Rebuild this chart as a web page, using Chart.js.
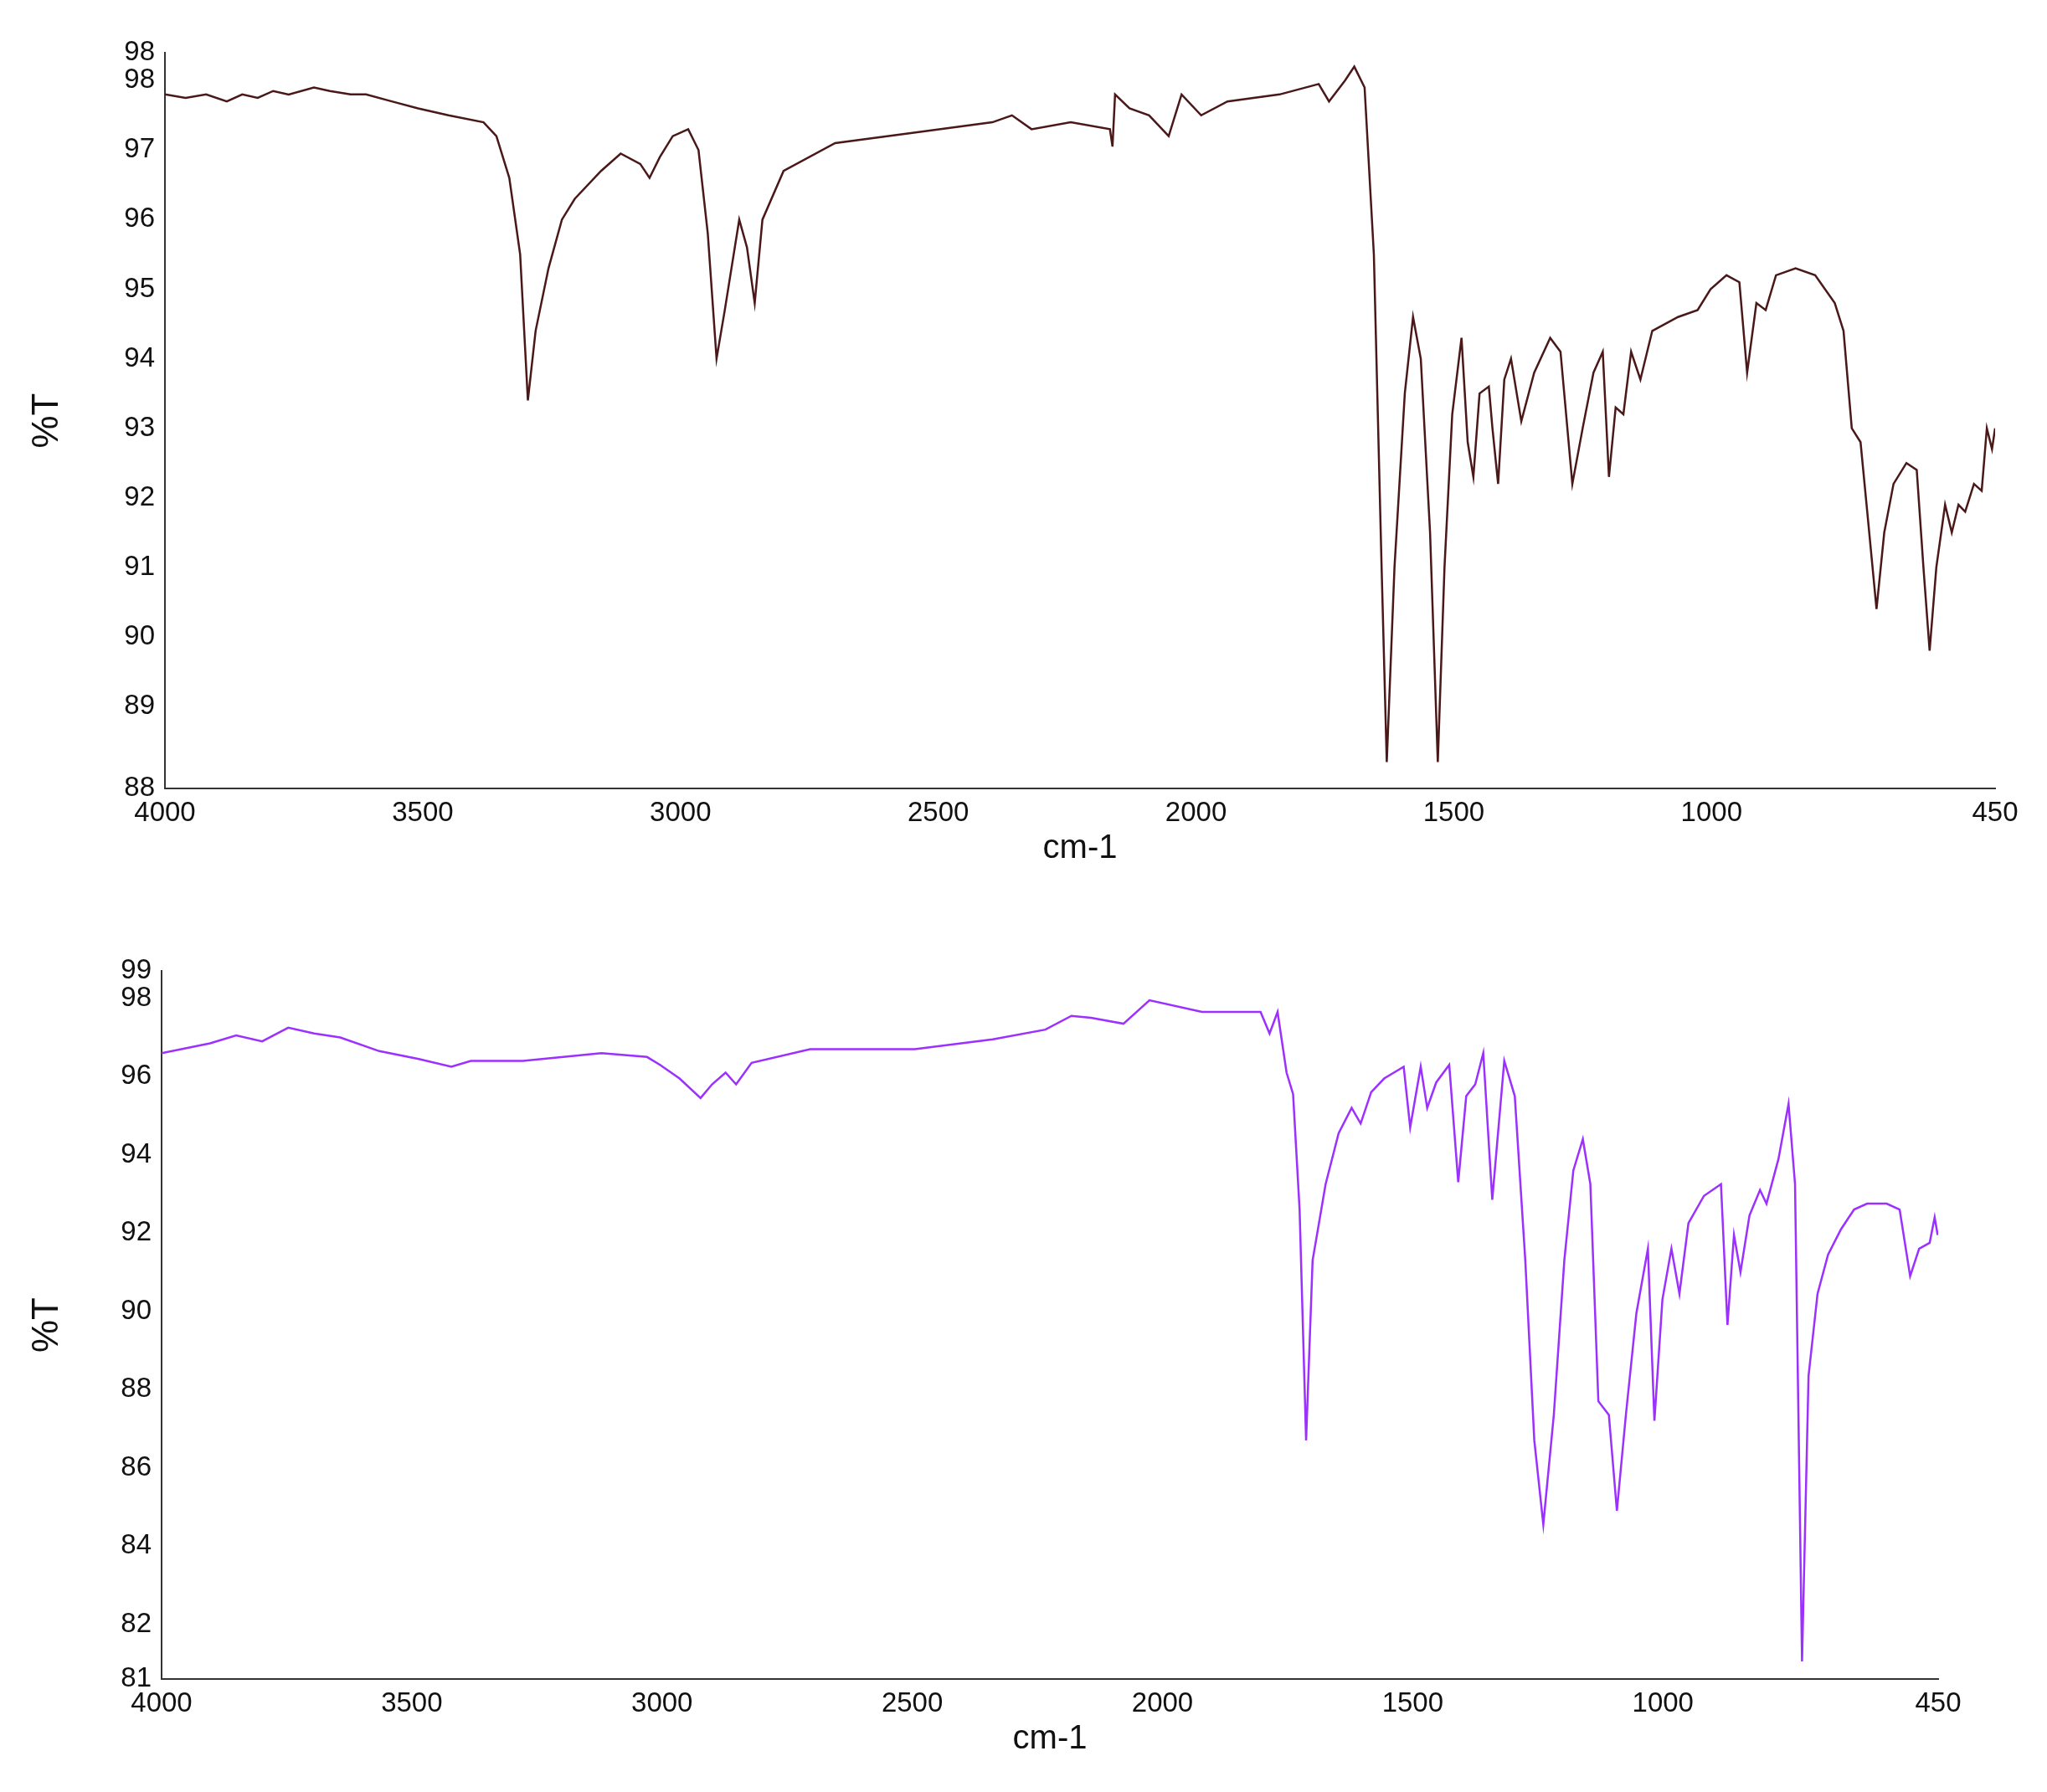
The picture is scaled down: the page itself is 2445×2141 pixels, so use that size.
<!DOCTYPE html>
<html><head><meta charset="utf-8">
<script src="https://cdn.jsdelivr.net/npm/chart.js@4/dist/chart.umd.min.js"></script>
<style>body{margin:0;background:#fff;width:2445px;height:2141px;position:relative;overflow:hidden}
.w{position:absolute;left:0;width:2445px}</style></head><body>
<div class="w" style="top:0;height:1075px"><canvas id="c1"></canvas></div>
<div class="w" style="top:1085px;height:1056px"><canvas id="c2"></canvas></div>
<script>
const wn1=[4000,3960,3920,3880,3850,3820,3790,3760,3711,3680,3640,3610,3560,3509,3450,3382,3357,3332,3311,3296,3281,3256,3230,3205,3154,3116,3078,3060,3040,3015,2985,2965,2947,2930,2914,2886,2871,2856,2841,2800,2700,2547,2395,2357,2319,2243,2167,2162,2157,2129,2091,2053,2028,1990,1939,1838,1762,1742,1711,1693,1673,1655,1640,1630,1615,1595,1579,1564,1546,1531,1518,1503,1485,1473,1462,1450,1432,1425,1414,1402,1389,1369,1344,1313,1293,1270,1250,1229,1211,1199,1186,1171,1156,1138,1115,1065,1027,1002,971,946,931,913,895,875,837,799,761,744,728,711,698,680,665,647,622,602,589,577,564,547,534,521,508,491,476,466,456,450];
const t1=[97.8,97.75,97.8,97.7,97.8,97.75,97.85,97.8,97.9,97.85,97.8,97.8,97.7,97.6,97.5,97.4,97.2,96.6,95.5,93.4,94.4,95.3,96.0,96.3,96.7,96.95,96.8,96.6,96.9,97.2,97.3,97.0,95.8,94.0,94.7,96.0,95.6,94.8,96.0,96.7,97.1,97.25,97.4,97.5,97.3,97.4,97.3,97.05,97.8,97.6,97.5,97.2,97.8,97.5,97.7,97.8,97.95,97.7,98.0,98.2,97.9,95.5,91.0,88.2,91.0,93.5,94.6,94.0,91.5,88.2,91.0,93.2,94.3,92.8,92.3,93.5,93.6,93.0,92.2,93.7,94.0,93.1,93.8,94.3,94.1,92.2,93.0,93.8,94.1,92.3,93.3,93.2,94.1,93.7,94.4,94.6,94.7,95.0,95.2,95.1,93.8,94.8,94.7,95.2,95.3,95.2,94.8,94.4,93.0,92.8,91.8,90.4,91.5,92.2,92.5,92.4,91.0,89.8,91.0,91.9,91.5,91.9,91.8,92.2,92.1,93.0,92.7,93.0];
const wn2=[4000,3903,3851,3799,3747,3695,3643,3565,3486,3421,3382,3278,3121,3030,3004,2965,2923,2900,2873,2852,2821,2704,2495,2339,2234,2182,2143,2078,2026,1921,1804,1786,1770,1752,1739,1726,1713,1700,1674,1648,1622,1604,1583,1557,1518,1505,1484,1471,1453,1427,1409,1393,1375,1359,1341,1317,1296,1275,1257,1239,1218,1197,1179,1160,1145,1129,1108,1092,1074,1053,1030,1017,1001,983,967,949,918,884,871,858,845,827,806,793,769,749,736,722,709,691,670,644,618,592,553,527,506,488,467,457,451];
const t2=[96.6,96.85,97.05,96.9,97.25,97.1,97.0,96.65,96.45,96.25,96.4,96.4,96.6,96.5,96.3,95.95,95.45,95.8,96.1,95.8,96.35,96.7,96.7,96.95,97.2,97.55,97.5,97.35,97.95,97.65,97.65,97.1,97.65,96.1,95.55,92.6,86.7,91.3,93.25,94.55,95.2,94.8,95.6,95.95,96.25,94.7,96.25,95.2,95.85,96.3,93.3,95.5,95.8,96.6,92.85,96.4,95.5,91.3,86.7,84.55,87.35,91.3,93.6,94.4,93.25,87.7,87.35,84.9,87.35,89.95,91.6,87.2,90.3,91.6,90.45,92.25,92.95,93.25,89.65,91.95,91.0,92.45,93.1,92.75,93.9,95.3,93.25,81.05,88.35,90.45,91.45,92.1,92.6,92.75,92.75,92.6,90.9,91.6,91.75,92.4,91.95];
const xTicks=[4000,3500,3000,2500,2000,1500,1000,450];
const yTicks1=[98.4,98,97,96,95,94,93,92,91,90,89,87.82];
const yTicks2=[98.7,98,96,94,92,90,88,86,84,82,80.6];

function mk(id,wn,t,color,yMin,yMax,yT,pad,yW,xH){
  const tickFont={family:'Liberation Sans, Arial',size:33};
  new Chart(document.getElementById(id),{
    type:'line',
    data:{datasets:[{data:wn.map((w,i)=>({x:w,y:t[i]})),borderColor:color,borderWidth:2.5,pointRadius:0,tension:0}]},
    options:{responsive:true,maintainAspectRatio:false,animation:false,
      layout:{padding:pad},
      plugins:{legend:{display:false},tooltip:{enabled:false}},
      scales:{
        x:{type:'linear',reverse:true,min:450,max:4000,
          afterBuildTicks:a=>{a.ticks=xTicks.map(v=>({value:v}))},
          afterFit:a=>{a.height=xH},
          grid:{display:false,drawTicks:true,tickLength:10,color:'#333'},
          border:{color:'#333',width:2},
          ticks:{color:'#111',font:tickFont,maxRotation:0,autoSkip:false,padding:0,callback:v=>String(v)},
          title:{display:true,text:'cm-1',color:'#111',font:{family:'Liberation Sans, Arial',size:40},padding:{top:-4}}},
        y:{min:yMin,max:yMax,
          afterBuildTicks:a=>{a.ticks=yT.map(v=>({value:v}))},
          afterFit:a=>{a.width=yW},
          grid:{display:false,drawTicks:true,tickLength:10,color:'#333'},
          border:{color:'#333',width:2},
          ticks:{color:'#111',font:tickFont,autoSkip:false,padding:2,callback:v=>Math.round(v)},
          title:{display:true,text:'%T',color:'#111',font:{family:'Liberation Sans, Arial',size:44},padding:{top:30,bottom:40}}}
      }}
  });
}
mk('c1',wn1,t1,'#4a1818',87.82,98.4,yTicks1,{top:63,right:62,left:0,bottom:33},197,100);
mk('c2',wn2,t2,'#9b30ff',80.6,98.7,yTicks2,{top:75,right:130,left:0,bottom:35},193,100);
</script></body></html>
